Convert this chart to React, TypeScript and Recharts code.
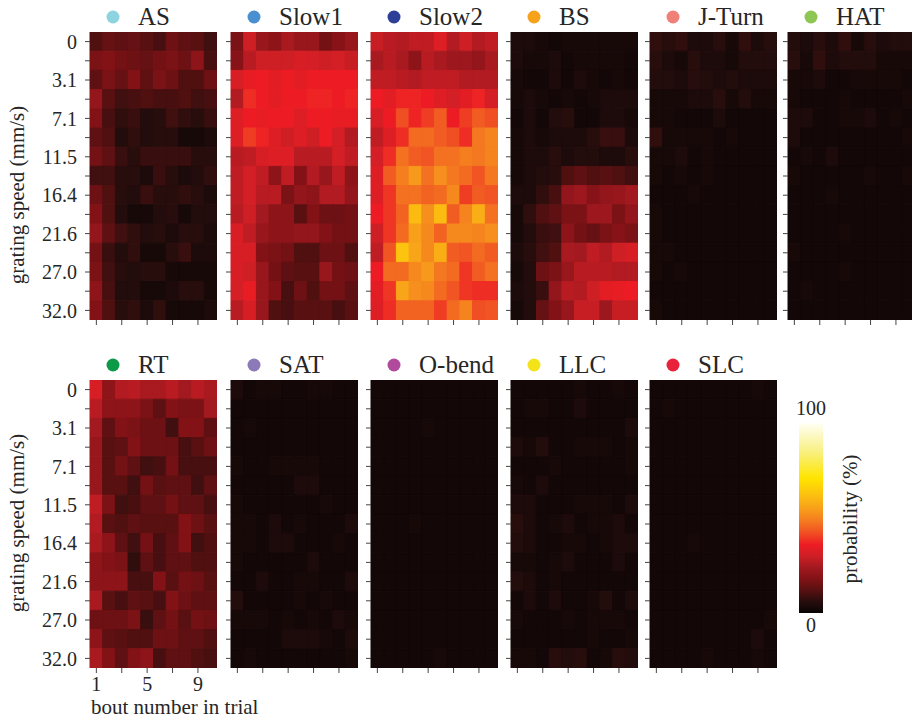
import React from "react";
import { BarChart, Bar, Cell, XAxis, YAxis } from "recharts";

// bout number (columns) and grating speed in mm/s (rows, top to bottom)
const bouts = [1, 2, 3, 4, 5, 6, 7, 8, 9, 10];
const speeds = ["0", "1.5", "3.1", "5.0", "7.1", "9.2", "11.5", "13.9", "16.4", "18.9", "21.6", "24.3", "27.0", "29.5", "32.0"];
const xTickLabels = [1, 5, 9];

// probability (%) per speed row x bout column
const asGrid = [
  [11, 14, 13, 14, 12, 10, 15, 13, 12, 9],
  [17, 18, 16, 15, 14, 16, 17, 15, 20, 10],
  [13, 17, 14, 18, 13, 17, 15, 11, 11, 15],
  [21, 12, 9, 10, 11, 10, 10, 11, 9, 10],
  [18, 10, 7, 8, 5, 6, 9, 7, 6, 8],
  [13, 11, 5, 7, 5, 6, 6, 3, 3, 4],
  [16, 13, 8, 6, 8, 8, 8, 8, 6, 6],
  [9, 9, 6, 6, 4, 8, 6, 4, 5, 7],
  [15, 11, 6, 5, 8, 6, 6, 7, 6, 4],
  [18, 11, 5, 3, 3, 5, 6, 3, 5, 5],
  [21, 13, 9, 7, 5, 6, 4, 6, 6, 4],
  [16, 8, 5, 7, 3, 3, 6, 8, 4, 4],
  [17, 9, 6, 5, 6, 6, 3, 3, 3, 3],
  [20, 10, 5, 5, 3, 3, 4, 6, 6, 3],
  [18, 11, 6, 7, 4, 7, 3, 3, 3, 4],
];

const slow1Grid = [
  [17, 30, 22, 20, 25, 22, 22, 16, 19, 22],
  [19, 27, 30, 30, 30, 32, 31, 30, 31, 29],
  [32, 35, 36, 34, 36, 34, 36, 36, 36, 36],
  [26, 38, 36, 34, 36, 36, 37, 37, 36, 37],
  [33, 36, 35, 36, 36, 33, 36, 36, 35, 35],
  [33, 40, 37, 33, 30, 33, 30, 36, 31, 26],
  [27, 28, 32, 33, 33, 27, 27, 27, 31, 28],
  [28, 31, 28, 20, 28, 18, 26, 22, 28, 20],
  [28, 31, 27, 27, 17, 21, 20, 26, 26, 21],
  [27, 30, 24, 20, 20, 12, 18, 15, 15, 16],
  [32, 28, 22, 20, 20, 21, 21, 18, 16, 16],
  [32, 32, 18, 17, 16, 11, 11, 15, 15, 11],
  [32, 30, 22, 16, 13, 12, 12, 22, 16, 15],
  [31, 35, 22, 18, 10, 15, 11, 16, 16, 13],
  [27, 32, 22, 11, 10, 12, 12, 12, 10, 12],
];

const slow2Grid = [
  [29, 27, 26, 28, 28, 33, 26, 30, 26, 28],
  [25, 27, 25, 20, 27, 25, 23, 23, 21, 25],
  [28, 28, 27, 26, 28, 28, 28, 26, 26, 26],
  [36, 34, 37, 37, 36, 33, 31, 34, 37, 31],
  [32, 36, 42, 37, 40, 44, 36, 40, 44, 42],
  [28, 33, 38, 46, 46, 44, 42, 38, 48, 50],
  [31, 38, 47, 44, 43, 47, 47, 49, 48, 50],
  [33, 44, 49, 54, 47, 52, 48, 46, 43, 48],
  [33, 39, 47, 47, 45, 46, 51, 40, 44, 43],
  [36, 39, 45, 61, 52, 61, 44, 50, 58, 47],
  [30, 39, 46, 55, 51, 45, 51, 51, 50, 52],
  [28, 43, 63, 56, 51, 58, 44, 43, 46, 44],
  [36, 46, 46, 51, 54, 48, 46, 39, 44, 47],
  [34, 39, 56, 52, 51, 46, 43, 39, 38, 38],
  [33, 38, 45, 45, 45, 40, 46, 50, 42, 43],
];

const bsGrid = [
  [4, 4, 3, 2, 3, 3, 3, 3, 3, 3],
  [4, 3, 3, 4, 2, 3, 3, 3, 3, 2],
  [3, 2, 2, 4, 2, 4, 3, 2, 3, 2],
  [3, 4, 3, 2, 3, 2, 3, 4, 4, 4],
  [2, 4, 2, 5, 6, 2, 2, 4, 4, 3],
  [3, 4, 3, 4, 4, 4, 6, 8, 8, 4],
  [3, 4, 4, 6, 4, 5, 5, 4, 4, 6],
  [3, 4, 5, 6, 11, 13, 11, 12, 11, 9],
  [4, 4, 7, 10, 21, 23, 19, 21, 22, 24],
  [3, 7, 11, 13, 17, 17, 23, 23, 17, 21],
  [3, 5, 8, 9, 20, 16, 14, 17, 19, 17],
  [4, 6, 9, 11, 25, 24, 28, 26, 30, 32],
  [3, 5, 15, 17, 22, 27, 27, 27, 26, 26],
  [4, 5, 8, 21, 27, 26, 30, 34, 35, 36],
  [3, 5, 14, 18, 22, 29, 29, 23, 29, 29],
];

const jTurnGrid = [
  [7, 6, 7, 4, 4, 6, 3, 7, 4, 6],
  [6, 4, 3, 6, 4, 4, 3, 5, 5, 5],
  [5, 5, 4, 6, 5, 4, 5, 4, 4, 4],
  [3, 3, 3, 4, 4, 6, 3, 5, 3, 3],
  [3, 3, 2, 2, 2, 4, 2, 2, 2, 2],
  [7, 3, 3, 3, 3, 2, 3, 2, 2, 2],
  [3, 3, 4, 2, 3, 2, 2, 2, 2, 2],
  [3, 2, 3, 2, 3, 2, 2, 2, 2, 2],
  [2, 2, 2, 3, 2, 2, 2, 2, 2, 2],
  [3, 2, 2, 2, 2, 2, 2, 2, 2, 2],
  [3, 2, 2, 2, 2, 2, 2, 2, 2, 2],
  [3, 3, 2, 2, 2, 2, 2, 2, 2, 2],
  [3, 2, 3, 2, 2, 2, 2, 2, 2, 2],
  [2, 2, 2, 2, 2, 2, 2, 2, 2, 2],
  [3, 2, 2, 2, 2, 2, 2, 2, 2, 2],
];

const hatGrid = [
  [5, 4, 6, 4, 7, 3, 6, 4, 5, 5],
  [6, 3, 7, 4, 5, 5, 5, 3, 3, 3],
  [3, 3, 4, 2, 2, 3, 3, 3, 3, 2],
  [3, 2, 2, 2, 3, 2, 2, 2, 2, 3],
  [4, 4, 2, 2, 3, 3, 4, 2, 3, 2],
  [4, 2, 2, 2, 2, 2, 2, 2, 2, 3],
  [2, 3, 2, 4, 2, 2, 2, 2, 2, 2],
  [3, 2, 2, 2, 2, 2, 3, 2, 2, 3],
  [2, 2, 2, 3, 2, 2, 2, 2, 2, 2],
  [2, 2, 2, 2, 2, 2, 2, 2, 2, 2],
  [2, 2, 2, 2, 3, 2, 2, 2, 2, 2],
  [3, 2, 2, 2, 2, 2, 2, 2, 2, 2],
  [2, 2, 2, 2, 3, 2, 2, 2, 2, 2],
  [2, 3, 2, 2, 2, 2, 2, 2, 2, 2],
  [2, 2, 2, 2, 2, 2, 2, 2, 2, 2],
];

const rtGrid = [
  [32, 20, 26, 27, 25, 25, 27, 24, 27, 25],
  [27, 20, 20, 20, 17, 13, 18, 17, 17, 24],
  [24, 13, 18, 17, 15, 15, 9, 18, 18, 13],
  [22, 12, 13, 18, 15, 15, 15, 10, 12, 15],
  [22, 12, 16, 13, 9, 10, 16, 10, 10, 10],
  [22, 12, 12, 9, 16, 12, 13, 13, 9, 13],
  [28, 17, 9, 10, 13, 13, 16, 13, 13, 10],
  [26, 12, 11, 13, 12, 12, 12, 18, 15, 12],
  [25, 20, 13, 9, 16, 10, 13, 18, 9, 11],
  [20, 18, 17, 7, 13, 10, 13, 13, 11, 11],
  [20, 20, 20, 10, 10, 18, 12, 16, 15, 12],
  [25, 12, 10, 13, 12, 10, 18, 15, 13, 13],
  [15, 15, 15, 17, 8, 13, 16, 12, 16, 15],
  [20, 13, 12, 11, 11, 15, 15, 13, 13, 11],
  [25, 18, 13, 18, 20, 10, 13, 13, 11, 10],
];

const satGrid = [
  [4, 2, 3, 3, 2, 2, 3, 3, 2, 2],
  [2, 2, 2, 2, 2, 2, 2, 2, 2, 2],
  [2, 3, 2, 2, 2, 2, 2, 2, 2, 2],
  [2, 2, 2, 2, 2, 2, 2, 2, 2, 2],
  [3, 2, 2, 3, 3, 3, 3, 2, 2, 2],
  [2, 2, 2, 2, 2, 4, 4, 2, 2, 2],
  [3, 2, 2, 2, 2, 2, 2, 3, 2, 2],
  [3, 3, 2, 4, 2, 3, 2, 2, 2, 4],
  [3, 3, 2, 4, 4, 2, 2, 2, 3, 2],
  [3, 2, 2, 2, 2, 2, 4, 2, 2, 2],
  [2, 2, 4, 2, 2, 3, 3, 2, 2, 4],
  [5, 2, 2, 2, 2, 3, 2, 3, 2, 2],
  [3, 3, 3, 2, 3, 2, 3, 2, 4, 3],
  [2, 2, 2, 2, 4, 4, 4, 3, 2, 4],
  [2, 3, 2, 2, 2, 2, 2, 2, 2, 3],
];

const oBendGrid = [
  [2, 2, 2, 2, 2, 2, 2, 2, 2, 2],
  [2, 2, 2, 2, 2, 2, 2, 2, 2, 2],
  [2, 2, 2, 2, 3, 2, 2, 2, 2, 2],
  [2, 2, 2, 2, 2, 2, 2, 2, 2, 2],
  [2, 2, 2, 2, 2, 2, 2, 2, 2, 2],
  [2, 2, 2, 2, 2, 2, 2, 2, 2, 2],
  [2, 2, 2, 2, 2, 2, 2, 2, 2, 2],
  [2, 2, 2, 3, 2, 2, 2, 2, 2, 2],
  [2, 2, 2, 2, 2, 2, 2, 2, 2, 2],
  [2, 2, 2, 2, 2, 2, 2, 2, 2, 2],
  [2, 2, 2, 2, 2, 2, 2, 2, 2, 2],
  [2, 2, 2, 2, 2, 2, 2, 2, 2, 2],
  [2, 2, 2, 2, 2, 2, 2, 2, 2, 2],
  [2, 2, 2, 2, 2, 2, 2, 2, 2, 2],
  [2, 2, 2, 2, 2, 3, 2, 2, 2, 2],
];

const llcGrid = [
  [2, 2, 2, 2, 2, 3, 2, 2, 3, 2],
  [2, 3, 3, 2, 2, 4, 2, 2, 2, 2],
  [2, 2, 2, 2, 2, 2, 2, 2, 2, 4],
  [4, 3, 5, 2, 2, 3, 3, 3, 2, 3],
  [2, 2, 2, 3, 2, 2, 2, 2, 2, 3],
  [3, 2, 4, 2, 2, 2, 2, 2, 2, 2],
  [4, 4, 2, 2, 2, 3, 3, 3, 2, 4],
  [6, 4, 2, 3, 4, 2, 3, 3, 4, 2],
  [5, 4, 2, 2, 3, 3, 2, 3, 4, 4],
  [3, 3, 2, 3, 4, 2, 2, 2, 4, 2],
  [5, 4, 2, 3, 2, 2, 2, 2, 2, 2],
  [2, 4, 2, 4, 2, 2, 3, 5, 2, 4],
  [3, 2, 2, 2, 3, 2, 3, 3, 3, 2],
  [2, 2, 2, 2, 2, 2, 3, 2, 2, 3],
  [3, 3, 2, 6, 5, 6, 2, 3, 6, 5],
];

const slcGrid = [
  [2, 2, 2, 2, 2, 2, 2, 2, 3, 2],
  [2, 3, 2, 2, 2, 2, 2, 2, 2, 2],
  [2, 2, 2, 2, 2, 2, 2, 2, 2, 2],
  [2, 2, 2, 2, 2, 2, 2, 2, 2, 2],
  [2, 2, 2, 2, 2, 2, 2, 2, 2, 2],
  [2, 2, 2, 2, 2, 2, 2, 2, 2, 2],
  [2, 2, 2, 2, 2, 2, 2, 2, 2, 2],
  [2, 2, 2, 2, 2, 2, 2, 2, 2, 2],
  [2, 2, 2, 3, 2, 2, 2, 2, 2, 2],
  [2, 2, 2, 2, 2, 2, 2, 2, 2, 2],
  [2, 2, 2, 2, 2, 2, 2, 2, 2, 2],
  [2, 2, 2, 2, 2, 2, 2, 2, 2, 2],
  [2, 2, 2, 2, 2, 2, 2, 2, 2, 3],
  [2, 2, 2, 2, 2, 2, 2, 2, 4, 2],
  [2, 2, 2, 2, 3, 2, 2, 2, 3, 2],
];

const panels = [
  { name: "AS", dot: "#8dd3e0", grid: asGrid },
  { name: "Slow1", dot: "#4a90d0", grid: slow1Grid },
  { name: "Slow2", dot: "#2e3f98", grid: slow2Grid },
  { name: "BS", dot: "#f7a21b", grid: bsGrid },
  { name: "J-Turn", dot: "#f08078", grid: jTurnGrid },
  { name: "HAT", dot: "#8dc653", grid: hatGrid },
  { name: "RT", dot: "#0c9a48", grid: rtGrid },
  { name: "SAT", dot: "#8c79b8", grid: satGrid },
  { name: "O-bend", dot: "#b04a9c", grid: oBendGrid },
  { name: "LLC", dot: "#f5e31a", grid: llcGrid },
  { name: "SLC", dot: "#e8223a", grid: slcGrid },
];

// colormap: value (%) -> rgb
const cmap: [number, number[]][] = [
  [0, [8, 4, 4]],
  [6, [40, 13, 13]],
  [12, [88, 16, 17]],
  [18, [130, 18, 22]],
  [24, [162, 25, 31]],
  [30, [206, 31, 37]],
  [36, [237, 28, 36]],
  [42, [240, 78, 35]],
  [48, [244, 120, 32]],
  [55, [248, 160, 26]],
  [62, [252, 192, 16]],
  [71, [255, 229, 0]],
  [85, [248, 240, 130]],
  [100, [255, 255, 245]],
];

function heatColor(v: number) {
  for (let k = 1; k < cmap.length; k++) {
    const [v1, c1] = cmap[k];
    const [v0, c0] = cmap[k - 1];
    if (v <= v1) {
      const t = (v - v0) / (v1 - v0);
      const c = c0.map((a, i) => Math.round(a + (c1[i] - a) * t));
      return `rgb(${c[0]},${c[1]},${c[2]})`;
    }
  }
  return "rgb(255,255,245)";
}

const FONT = "Times New Roman, Tinos, Liberation Serif, Noto Serif, serif";
const TEXT = "#262626";
const TICK = "#444";
const COL_X = [90, 231, 371, 511, 650, 788];
const ROW_Y = [32, 380];
const PW = 127;
const PH = 288;

const yTicks = speeds.map((_, j) => j + 0.5);
const tableData = bouts.map((b) => {
  const row: Record<string, number> = { bout: b };
  speeds.forEach((_, j) => {
    row[`r${j}`] = 1;
  });
  return row;
});

function Heatmap({ grid, first, xLabels }: { grid: number[][]; first: boolean; xLabels: boolean }) {
  const yW = first ? 90 : 6;
  const xH = 32;
  return (
    <BarChart
      width={yW + PW}
      height={PH + xH}
      data={tableData}
      margin={{ top: 0, right: 0, bottom: 0, left: 0 }}
      barCategoryGap={0}
      barGap={0}
    >
      <XAxis
        dataKey="bout"
        interval={1}
        height={xH}
        tickSize={5}
        tickMargin={4}
        axisLine={false}
        tickLine={{ stroke: TICK }}
        tick={{ fill: TEXT, fontSize: 20, fontFamily: FONT }}
        tickFormatter={(v: number) => (xLabels && xTickLabels.includes(v) ? String(v) : "")}
      />
      <YAxis
        type="number"
        domain={[0, 15]}
        reversed
        allowDataOverflow
        ticks={yTicks}
        interval={0}
        width={yW}
        tickSize={5}
        tickMargin={8}
        axisLine={false}
        tickLine={{ stroke: TICK }}
        tick={{ fill: TEXT, fontSize: 20, fontFamily: FONT }}
        tickFormatter={(v: number) => {
          const j = Math.round(v - 0.5);
          return first && j % 2 === 0 ? speeds[j] : "";
        }}
      />
      {speeds.map((_, j) => (
        <Bar key={j} dataKey={`r${j}`} stackId="s" isAnimationActive={false}>
          {bouts.map((_, i) => {
            const c = heatColor(grid[j][i]);
            return <Cell key={i} fill={c} stroke={c} strokeWidth={1} />;
          })}
        </Bar>
      ))}
    </BarChart>
  );
}

export default function App() {
  const cbX = 799;
  const cbTop = 423;
  const cbW = 24;
  const cbH = 190;
  return (
    <div style={{ position: "absolute", left: 0, top: 0, width: 912, height: 720, overflow: "hidden", background: "#fff", fontFamily: FONT }}>
      {panels.map((p, k) => {
        const r = k < 6 ? 0 : 1;
        const c = k < 6 ? k : k - 6;
        const first = c === 0;
        const yW = first ? 90 : 6;
        return (
          <div key={p.name} style={{ position: "absolute", left: COL_X[c] - yW, top: ROW_Y[r] }}>
            <Heatmap grid={p.grid} first={first} xLabels={r === 1 && c === 0} />
          </div>
        );
      })}
      <svg width={912} height={720} style={{ position: "absolute", left: 0, top: 0, pointerEvents: "none" }}>
        <defs>
          <linearGradient id="cbar" x1="0" y1="1" x2="0" y2="0">
            {cmap.map(([v]) => (
              <stop key={v} offset={`${v}%`} stopColor={heatColor(v)} />
            ))}
          </linearGradient>
        </defs>
        {panels.map((p, k) => {
          const r = k < 6 ? 0 : 1;
          const c = k < 6 ? k : k - 6;
          const x = COL_X[c];
          const y = ROW_Y[r];
          return (
            <g key={p.name}>
              <circle cx={x + 23} cy={y - 15} r={6.5} fill={p.dot} />
              <text x={x + 48} y={y - 7} fontSize={25} fontFamily={FONT} fill={TEXT}>
                {p.name}
              </text>
            </g>
          );
        })}
        <text x={24} y={195} transform="rotate(-90 24 195)" textAnchor="middle" fontSize={21} fontFamily={FONT} fill={TEXT}>
          grating speed (mm/s)
        </text>
        <text x={24} y={523} transform="rotate(-90 24 523)" textAnchor="middle" fontSize={21} fontFamily={FONT} fill={TEXT}>
          grating speed (mm/s)
        </text>
        <text x={91} y={714} fontSize={21} fontFamily={FONT} fill={TEXT}>
          bout number in trial
        </text>
        <rect x={cbX} y={cbTop} width={cbW} height={cbH} fill="url(#cbar)" />
        <text x={cbX + cbW / 2} y={415} textAnchor="middle" fontSize={20} fontFamily={FONT} fill={TEXT}>
          100
        </text>
        <text x={cbX + cbW / 2} y={632} textAnchor="middle" fontSize={20} fontFamily={FONT} fill={TEXT}>
          0
        </text>
        <text x={857} y={519} transform="rotate(-90 857 519)" textAnchor="middle" fontSize={21} fontFamily={FONT} fill={TEXT}>
          probability (%)
        </text>
      </svg>
    </div>
  );
}
